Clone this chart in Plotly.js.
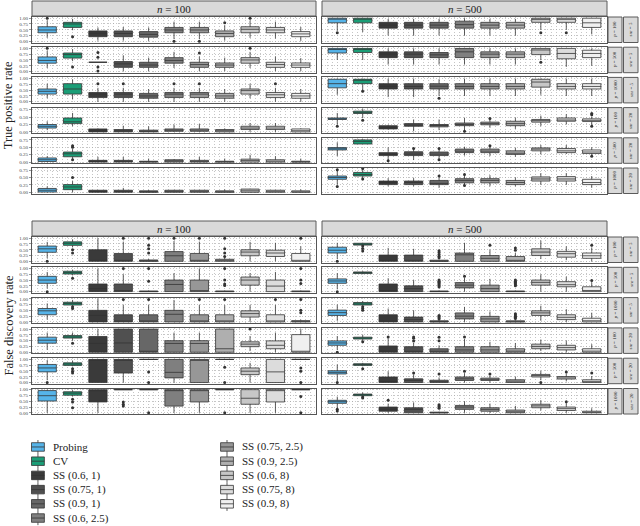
<!DOCTYPE html>
<html>
<head>
<meta charset="utf-8">
<script src="https://cdn.plot.ly/plotly-3.0.1.min.js"></script>
<style>
  body { margin: 0; background: #fff; }
  #chart { width: 640px; height: 526px; }
</style>
</head>
<body>
<div id="chart"></div>
<script>
const methods = ['Probing', 'CV', 'SS (0.6, 1)', 'SS (0.75, 1)', 'SS (0.9, 1)', 'SS (0.6, 2.5)',
    'SS (0.75, 2.5)', 'SS (0.9, 2.5)', 'SS (0.6, 8)', 'SS (0.75, 8)', 'SS (0.9, 8)'];
const fills = ['#56b4e9', '#1b9e77', '#3a3a3a', '#505050', '#676767', '#7f7f7f',
    '#979797', '#afafaf', '#c7c7c7', '#dcdcdc', '#f0f0f0'];

const nLabels = ['100', '500'];
const pLabels = ['100', '500', '1000', '100', '500', '1000'];
const snrLabels = ['5', '5', '5', '20', '20', '20'];
const tickVals = [0, 0.25, 0.5, 0.75, 1];
const tickText = ['0.00', '0.25', '0.50', '0.75', '1.00'];

// each row: [lower whisker, q1, median, q3, upper whisker, [outliers]]
// true positive rate, n = 100
const tprL1 = [
    [0.15, 0.37, 0.49, 0.63, 0.90, [1.0]], [0.48, 0.60, 0.75, 0.82, 0.97, [0.2]],
    [0.03, 0.20, 0.34, 0.45, 0.60, []], [0.03, 0.20, 0.34, 0.45, 0.62, []],
    [0.02, 0.18, 0.30, 0.42, 0.60, []], [0.10, 0.37, 0.49, 0.60, 0.85, [0.0]],
    [0.10, 0.37, 0.49, 0.60, 0.85, [0.0]], [0.03, 0.20, 0.34, 0.45, 0.70, [0.8]],
    [0.15, 0.37, 0.52, 0.63, 0.90, [1.0]], [0.12, 0.37, 0.49, 0.60, 0.85, []],
    [0.02, 0.20, 0.32, 0.42, 0.62, []]];
const tprL2 = [
    [0.15, 0.36, 0.48, 0.63, 0.90, [1.0]], [0.45, 0.58, 0.73, 0.80, 0.97, [0.2]],
    [0.40, 0.40, 0.40, 0.40, 0.40, [0.82, 0.62, 0.2, 0.02]], [0.02, 0.18, 0.33, 0.43, 0.70, []],
    [0.02, 0.18, 0.28, 0.40, 0.60, []], [0.15, 0.36, 0.48, 0.60, 0.85, []],
    [0.02, 0.18, 0.30, 0.40, 0.65, [0.8]], [0.02, 0.18, 0.28, 0.37, 0.60, []],
    [0.15, 0.36, 0.50, 0.60, 0.85, [1.0]], [0.02, 0.18, 0.30, 0.40, 0.65, []],
    [0.02, 0.18, 0.28, 0.37, 0.58, []]];
const tprL3 = [
    [0.15, 0.33, 0.45, 0.55, 0.78, []], [0.10, 0.33, 0.55, 0.78, 0.97, []],
    [0.00, 0.18, 0.33, 0.40, 0.60, [0.78]], [0.00, 0.18, 0.33, 0.40, 0.60, [0.78]],
    [0.00, 0.15, 0.25, 0.36, 0.55, []], [0.00, 0.18, 0.33, 0.40, 0.60, [0.78]],
    [0.00, 0.18, 0.33, 0.40, 0.60, [0.78]], [0.00, 0.15, 0.25, 0.36, 0.55, []],
    [0.15, 0.33, 0.48, 0.55, 0.78, []], [0.00, 0.18, 0.30, 0.40, 0.60, [0.78]],
    [0.00, 0.15, 0.25, 0.36, 0.55, []]];
const tprL4 = [
    [0.06, 0.13, 0.19, 0.25, 0.36, []], [0.19, 0.28, 0.34, 0.47, 0.64, []],
    [0.00, 0.00, 0.05, 0.10, 0.12, []], [0.00, 0.00, 0.04, 0.08, 0.21, []],
    [0.00, 0.00, 0.02, 0.06, 0.19, []], [0.00, 0.02, 0.06, 0.10, 0.25, []],
    [0.00, 0.02, 0.06, 0.10, 0.27, []], [0.00, 0.00, 0.04, 0.08, 0.12, []],
    [0.00, 0.08, 0.13, 0.19, 0.30, []], [0.00, 0.08, 0.13, 0.19, 0.30, []],
    [0.00, 0.00, 0.04, 0.10, 0.12, []]];
const tprL5 = [
    [0.00, 0.02, 0.08, 0.14, 0.20, []], [0.10, 0.18, 0.28, 0.34, 0.45, [0.5, 0.55, 0.08]],
    [0.00, 0.00, 0.02, 0.06, 0.18, []], [0.00, 0.00, 0.02, 0.06, 0.18, []],
    [0.00, 0.00, 0.01, 0.03, 0.12, []], [0.00, 0.00, 0.04, 0.08, 0.10, []],
    [0.00, 0.00, 0.02, 0.06, 0.18, []], [0.00, 0.00, 0.01, 0.03, 0.12, []],
    [0.00, 0.00, 0.05, 0.10, 0.25, []], [0.00, 0.00, 0.03, 0.08, 0.20, []],
    [0.00, 0.00, 0.01, 0.03, 0.12, []]];
const tprL6 = [
    [0.00, 0.01, 0.07, 0.13, 0.20, []], [0.00, 0.09, 0.18, 0.26, 0.38, [0.5]],
    [0.00, 0.00, 0.02, 0.07, 0.08, []], [0.00, 0.00, 0.02, 0.07, 0.15, []],
    [0.00, 0.00, 0.01, 0.05, 0.08, []], [0.00, 0.00, 0.02, 0.07, 0.08, []],
    [0.00, 0.00, 0.02, 0.07, 0.08, []], [0.00, 0.00, 0.01, 0.05, 0.10, []],
    [0.00, 0.00, 0.05, 0.11, 0.12, []], [0.00, 0.00, 0.02, 0.07, 0.08, []],
    [0.00, 0.00, 0.01, 0.05, 0.10, []]];

// true positive rate, n = 500
const tprR1 = [
    [0.45, 0.80, 0.97, 1.00, 1.00, [0.37]], [0.40, 0.80, 0.97, 1.00, 1.00, []],
    [0.25, 0.57, 0.70, 0.82, 0.97, []], [0.25, 0.57, 0.70, 0.82, 0.97, []],
    [0.25, 0.57, 0.70, 0.82, 0.97, []], [0.25, 0.57, 0.72, 0.87, 1.00, []],
    [0.25, 0.57, 0.70, 0.82, 0.97, []], [0.25, 0.57, 0.70, 0.82, 0.97, []],
    [0.50, 0.82, 0.95, 1.00, 1.00, [0.37]], [0.50, 0.82, 0.95, 1.00, 1.00, [0.37]],
    [0.30, 0.60, 0.80, 1.00, 1.00, []]];
const tprR2 = [
    [0.50, 0.80, 0.95, 1.00, 1.00, []], [0.50, 0.82, 0.97, 1.00, 1.00, []],
    [0.30, 0.60, 0.75, 0.85, 1.00, []], [0.30, 0.60, 0.75, 0.85, 1.00, []],
    [0.30, 0.60, 0.72, 0.82, 1.00, []], [0.30, 0.60, 0.85, 1.00, 1.00, []],
    [0.30, 0.60, 0.75, 0.85, 1.00, []], [0.30, 0.60, 0.75, 0.85, 1.00, []],
    [0.50, 0.73, 0.93, 1.00, 1.00, [0.4]], [0.20, 0.55, 0.78, 1.00, 1.00, []],
    [0.25, 0.60, 0.78, 0.92, 1.00, []]];
const tprR3 = [
    [0.30, 0.60, 0.78, 0.97, 1.00, []], [0.50, 0.78, 0.93, 0.97, 1.00, [0.45]],
    [0.20, 0.55, 0.66, 0.78, 1.00, []], [0.20, 0.55, 0.66, 0.78, 1.00, []],
    [0.25, 0.55, 0.67, 0.78, 0.97, [0.15]], [0.25, 0.55, 0.66, 0.78, 1.00, []],
    [0.25, 0.55, 0.66, 0.78, 1.00, []], [0.25, 0.55, 0.66, 0.78, 1.00, []],
    [0.30, 0.63, 0.85, 0.97, 1.00, []], [0.25, 0.55, 0.66, 0.78, 1.00, []],
    [0.25, 0.55, 0.66, 0.78, 1.00, []]];
const tprR4 = [
    [0.25, 0.42, 0.44, 0.47, 0.64, [0.19]], [0.47, 0.62, 0.66, 0.70, 0.78, [0.39]],
    [0.08, 0.10, 0.15, 0.21, 0.24, []], [0.02, 0.19, 0.23, 0.28, 0.42, []],
    [0.06, 0.17, 0.22, 0.25, 0.42, []], [0.05, 0.21, 0.25, 0.30, 0.47, [0.02]],
    [0.14, 0.24, 0.28, 0.33, 0.45, [0.45]], [0.10, 0.21, 0.28, 0.36, 0.48, []],
    [0.19, 0.33, 0.38, 0.42, 0.55, []], [0.25, 0.36, 0.40, 0.47, 0.60, []],
    [0.20, 0.35, 0.39, 0.44, 0.52, [0.62, 0.58, 0.19]]];
const tprR5 = [
    [0.20, 0.41, 0.45, 0.49, 0.67, []], [0.61, 0.61, 0.70, 0.75, 0.78, []],
    [0.07, 0.22, 0.26, 0.32, 0.50, [0.05]], [0.07, 0.22, 0.27, 0.35, 0.45, [0.46]],
    [0.07, 0.22, 0.27, 0.34, 0.45, [0.46, 0.08]], [0.22, 0.32, 0.37, 0.44, 0.52, []],
    [0.20, 0.32, 0.37, 0.44, 0.52, [0.55]], [0.18, 0.26, 0.30, 0.38, 0.48, []],
    [0.26, 0.38, 0.44, 0.48, 0.58, []], [0.28, 0.32, 0.38, 0.46, 0.58, []],
    [0.20, 0.29, 0.34, 0.41, 0.50, [0.2]]];
const tprR6 = [
    [0.26, 0.44, 0.50, 0.55, 0.72, [0.76, 0.2]], [0.45, 0.55, 0.60, 0.67, 0.78, [0.8, 0.45]],
    [0.20, 0.26, 0.33, 0.38, 0.48, []], [0.20, 0.26, 0.33, 0.38, 0.48, []],
    [0.15, 0.26, 0.30, 0.40, 0.50, [0.55]], [0.20, 0.32, 0.40, 0.46, 0.58, [0.6, 0.23]],
    [0.20, 0.32, 0.40, 0.46, 0.58, []], [0.20, 0.26, 0.33, 0.40, 0.50, []],
    [0.25, 0.38, 0.45, 0.52, 0.65, []], [0.25, 0.38, 0.45, 0.53, 0.65, []],
    [0.15, 0.26, 0.33, 0.44, 0.55, []]];

// false discovery rate, n = 100
const fdrL1 = [
    [0.13, 0.39, 0.54, 0.66, 0.84, [0.0]], [0.60, 0.69, 0.78, 0.84, 0.95, [0.5, 0.36]],
    [0.00, 0.00, 0.00, 0.50, 1.00, []], [0.00, 0.00, 0.00, 0.34, 0.85, [1.0]],
    [0.00, 0.00, 0.00, 0.06, 0.10, [1.0, 0.69, 0.54, 0.36]], [0.00, 0.00, 0.24, 0.42, 0.88, [1.0]],
    [0.00, 0.00, 0.00, 0.34, 0.85, [1.0]], [0.00, 0.00, 0.00, 0.09, 0.15, [1.0, 0.54, 0.36, 0.21]],
    [0.00, 0.24, 0.40, 0.50, 0.84, []], [0.00, 0.21, 0.36, 0.48, 0.80, []],
    [0.00, 0.00, 0.00, 0.34, 0.65, [1.0]]];
const fdrL2 = [
    [0.13, 0.36, 0.50, 0.66, 0.85, [0.0]], [0.70, 0.76, 0.82, 0.88, 0.95, [0.58]],
    [0.00, 0.00, 0.13, 0.33, 1.00, []], [0.00, 0.00, 0.00, 0.33, 0.75, [1.0]],
    [0.00, 0.00, 0.00, 0.03, 0.05, [1.0, 0.45]], [0.00, 0.00, 0.31, 0.50, 0.80, []],
    [0.00, 0.00, 0.00, 0.50, 1.00, []], [0.00, 0.00, 0.00, 0.03, 0.05, [1.0, 0.5, 0.33, 0.27]],
    [0.00, 0.28, 0.50, 0.63, 0.80, []], [0.00, 0.00, 0.24, 0.50, 0.85, []],
    [0.00, 0.00, 0.00, 0.03, 0.05, [1.0, 0.5, 0.35]]];
const fdrL3 = [
    [0.10, 0.31, 0.48, 0.58, 0.80, []], [0.70, 0.73, 0.80, 0.85, 0.95, [0.66, 0.58]],
    [0.00, 0.00, 0.28, 0.50, 1.00, []], [0.00, 0.00, 0.00, 0.31, 0.73, [0.97]],
    [0.00, 0.00, 0.00, 0.31, 0.73, [0.97]], [0.00, 0.00, 0.33, 0.50, 0.95, []],
    [0.00, 0.00, 0.00, 0.31, 0.73, [0.97]], [0.00, 0.00, 0.00, 0.31, 0.73, [0.97]],
    [0.00, 0.21, 0.36, 0.48, 0.73, []], [0.00, 0.00, 0.00, 0.31, 0.73, [0.97]],
    [0.00, 0.00, 0.00, 0.06, 0.10, [0.97, 0.5, 0.4]]];
const fdrL4 = [
    [0.10, 0.39, 0.52, 0.65, 0.85, []], [0.50, 0.61, 0.66, 0.72, 0.85, [0.39]],
    [0.00, 0.00, 0.38, 0.68, 1.00, []], [0.00, 0.00, 0.40, 1.00, 1.00, []],
    [0.00, 0.00, 0.00, 1.00, 1.00, []], [0.00, 0.00, 0.38, 0.50, 0.85, []],
    [0.00, 0.00, 0.38, 0.50, 0.85, []], [0.00, 0.00, 0.15, 1.00, 1.00, []],
    [0.05, 0.24, 0.35, 0.45, 0.70, [1.0]], [0.00, 0.15, 0.30, 0.49, 0.85, []],
    [0.00, 0.00, 0.00, 0.76, 1.00, []]];
const fdrL5 = [
    [0.10, 0.46, 0.63, 0.78, 0.97, [0.0]], [0.70, 0.74, 0.80, 0.85, 0.95, [0.59, 0.49, 0.41]],
    [0.00, 0.00, 1.00, 1.00, 1.00, []], [0.00, 0.41, 1.00, 1.00, 1.00, []],
    [1.00, 1.00, 1.00, 1.00, 1.00, [0.46, 0.0]], [0.00, 0.20, 0.44, 1.00, 1.00, []],
    [0.00, 0.00, 1.00, 1.00, 1.00, []], [1.00, 1.00, 1.00, 1.00, 1.00, [0.66, 0.0]],
    [0.00, 0.34, 0.49, 0.63, 0.85, []], [0.00, 0.00, 0.46, 1.00, 1.00, []],
    [1.00, 1.00, 1.00, 1.00, 1.00, [0.63, 0.49, 0.0]]];
const fdrL6 = [
    [0.00, 0.51, 0.74, 0.96, 1.00, []], [0.70, 0.76, 0.85, 0.91, 0.98, [0.59, 0.47, 0.22]],
    [0.00, 0.47, 1.00, 1.00, 1.00, []], [1.00, 1.00, 1.00, 1.00, 1.00, [0.47, 0.37, 0.29]],
    [1.00, 1.00, 1.00, 1.00, 1.00, [0.0]], [0.00, 0.29, 1.00, 1.00, 1.00, []],
    [0.00, 0.47, 1.00, 1.00, 1.00, []], [1.00, 1.00, 1.00, 1.00, 1.00, [0.0]],
    [0.00, 0.37, 0.63, 1.00, 1.00, []], [0.00, 0.47, 1.00, 1.00, 1.00, []],
    [1.00, 1.00, 1.00, 1.00, 1.00, [0.7, 0.0]]];

// false discovery rate, n = 500
const fdrR1 = [
    [0.10, 0.36, 0.48, 0.61, 0.80, [0.0]], [0.70, 0.70, 0.74, 0.78, 0.80, [0.66, 0.55, 0.45]],
    [0.00, 0.00, 0.00, 0.27, 0.58, []], [0.00, 0.00, 0.00, 0.27, 0.54, []],
    [0.00, 0.00, 0.00, 0.05, 0.08, [0.46, 0.38, 0.3, 0.22, 0.15]], [0.00, 0.00, 0.28, 0.36, 0.80, []],
    [0.00, 0.00, 0.13, 0.25, 0.50, [0.69]], [0.00, 0.00, 0.00, 0.21, 0.36, [0.58, 0.48]],
    [0.10, 0.25, 0.40, 0.54, 0.90, []], [0.05, 0.18, 0.33, 0.43, 0.65, []],
    [0.00, 0.13, 0.24, 0.36, 0.60, [0.69]]];
const fdrR2 = [
    [0.10, 0.36, 0.46, 0.55, 0.80, [0.0]], [0.75, 0.78, 0.82, 0.85, 0.88, []],
    [0.00, 0.00, 0.00, 0.33, 0.58, []], [0.00, 0.00, 0.13, 0.25, 0.50, []],
    [0.00, 0.00, 0.00, 0.03, 0.05, [0.5, 0.45, 0.4, 0.35, 0.3, 0.25, 0.2]], [0.00, 0.16, 0.28, 0.39, 0.60, [0.66]],
    [0.00, 0.00, 0.13, 0.28, 0.55, []], [0.00, 0.00, 0.00, 0.03, 0.05, [0.5, 0.45, 0.4, 0.35, 0.3, 0.25]],
    [0.00, 0.28, 0.40, 0.50, 0.75, []], [0.00, 0.21, 0.30, 0.43, 0.65, []],
    [0.00, 0.00, 0.05, 0.21, 0.40, [0.48]]];
const fdrR3 = [
    [0.05, 0.28, 0.40, 0.51, 0.75, []], [0.70, 0.73, 0.78, 0.84, 0.90, [0.66, 0.58, 0.5]],
    [0.00, 0.00, 0.00, 0.31, 0.58, []], [0.00, 0.00, 0.10, 0.21, 0.50, []],
    [0.00, 0.00, 0.00, 0.05, 0.08, [0.28, 0.23, 0.18, 0.13]], [0.00, 0.13, 0.25, 0.39, 0.65, []],
    [0.00, 0.00, 0.13, 0.24, 0.45, []], [0.00, 0.00, 0.00, 0.05, 0.08, [0.35, 0.3, 0.25, 0.2, 0.15]],
    [0.05, 0.28, 0.39, 0.48, 0.70, []], [0.00, 0.10, 0.20, 0.31, 0.55, []],
    [0.00, 0.00, 0.05, 0.16, 0.40, []]];
const fdrR4 = [
    [0.10, 0.30, 0.40, 0.49, 0.70, [0.0]], [0.50, 0.57, 0.62, 0.65, 0.75, [0.45]],
    [0.00, 0.00, 0.00, 0.27, 0.60, [0.66]], [0.00, 0.00, 0.00, 0.24, 0.40, [0.49, 0.6, 0.66]],
    [0.00, 0.00, 0.00, 0.15, 0.30, [0.65, 0.5]], [0.00, 0.00, 0.10, 0.24, 0.57, [0.66]],
    [0.00, 0.00, 0.10, 0.24, 0.45, []], [0.00, 0.00, 0.05, 0.15, 0.40, []],
    [0.05, 0.15, 0.25, 0.35, 0.55, []], [0.00, 0.10, 0.20, 0.30, 0.50, []],
    [0.00, 0.00, 0.05, 0.15, 0.35, []]];
const fdrR5 = [
    [0.05, 0.37, 0.44, 0.51, 0.78, [0.0]], [0.70, 0.74, 0.78, 0.81, 0.85, [0.59]],
    [0.00, 0.00, 0.00, 0.24, 0.49, []], [0.00, 0.00, 0.09, 0.16, 0.35, [0.41]],
    [0.00, 0.00, 0.05, 0.10, 0.22, [0.37]], [0.00, 0.09, 0.16, 0.24, 0.40, [0.49]],
    [0.00, 0.09, 0.14, 0.19, 0.30, [0.37]], [0.00, 0.00, 0.06, 0.12, 0.25, []],
    [0.10, 0.24, 0.30, 0.35, 0.50, [0.0]], [0.05, 0.15, 0.20, 0.26, 0.38, [0.46]],
    [0.00, 0.00, 0.05, 0.12, 0.28, [0.41]]];
const fdrR6 = [
    [0.20, 0.41, 0.48, 0.54, 0.70, [0.15, 0.08]], [0.70, 0.74, 0.78, 0.81, 0.88, [0.68, 0.64]],
    [0.00, 0.07, 0.15, 0.25, 0.40, [0.54]], [0.00, 0.00, 0.15, 0.22, 0.45, []],
    [0.00, 0.00, 0.00, 0.03, 0.05, [0.35, 0.3, 0.25, 0.2]], [0.00, 0.15, 0.25, 0.32, 0.50, []],
    [0.00, 0.07, 0.15, 0.22, 0.40, []], [0.00, 0.00, 0.04, 0.12, 0.30, []],
    [0.10, 0.22, 0.30, 0.37, 0.55, []], [0.00, 0.10, 0.18, 0.25, 0.45, [0.48]],
    [0.00, 0.00, 0.02, 0.07, 0.20, []]];

const tprLeft = [tprL1, tprL2, tprL3, tprL4, tprL5, tprL6];
const tprRight = [tprR1, tprR2, tprR3, tprR4, tprR5, tprR6];
const fdrLeft = [fdrL1, fdrL2, fdrL3, fdrL4, fdrL5, fdrL6];
const fdrRight = [fdrR1, fdrR2, fdrR3, fdrR4, fdrR5, fdrR6];

// ---- geometry (pixels) ----
const W = 640, H = 526;
const FONT = 'Liberation Serif, DejaVu Serif, serif';
const colX = [[32, 316], [322, 607]];
const panelH = 25.5;
const blocks = [
    {name: 'True positive rate', headerTop: 1, tops: [17, 47.2, 77.4, 107.6, 137.8, 168], data: [tprLeft, tprRight]},
    {name: 'False discovery rate', headerTop: 221, tops: [237, 267.3, 297.6, 327.9, 358.2, 388.5], data: [fdrLeft, fdrRight]}
];
const px = v => v / W;
const py = v => 1 - v / H;

const traces = [];
const shapes = [];
const annotations = [];
const layout = {
    width: W, height: H,
    margin: {l: 0, r: 0, t: 0, b: 0},
    paper_bgcolor: '#ffffff', plot_bgcolor: '#ffffff',
    showlegend: false,
    font: {family: FONT, color: '#222'},
    shapes: shapes, annotations: annotations
};

function label(x, y, text, size, angle) {
    annotations.push({xref: 'paper', yref: 'paper', x: px(x), y: py(y), text: text,
        xanchor: 'center', yanchor: 'middle', textangle: angle || 0, showarrow: false,
        font: {size: size, family: FONT, color: '#222'}});
}

let k = 0;
blocks.forEach((block, b) => {
    block.data.forEach((colData, c) => {
        // n = ... strip above the column
        shapes.push({type: 'rect', xref: 'paper', yref: 'paper',
            x0: px(colX[c][0]), x1: px(colX[c][1]), y0: py(block.headerTop + 15), y1: py(block.headerTop),
            fillcolor: '#d9d9d9', line: {color: '#5a5a5a', width: 1}});
        label((colX[c][0] + colX[c][1]) / 2, block.headerTop + 7.5, '<i>n</i> = ' + nLabels[c], 11);

        colData.forEach((stats, r) => {
            k += 1;
            const xa = k === 1 ? 'x' : 'x' + k;
            const ya = k === 1 ? 'y' : 'y' + k;
            const top = block.tops[r];
            const small = b === 0 && r >= 3;
            const yRange = small ? [-0.04, 0.82] : [-0.05, 1.05];
            const tv = small ? tickVals.slice(0, 4) : tickVals;
            const tt = small ? tickText.slice(0, 4) : tickText;

            layout['xaxis' + (k === 1 ? '' : k)] = {
                domain: [px(colX[c][0]), px(colX[c][1])], anchor: ya,
                range: [0.4, 11.6], tick0: 0, dtick: 0.2,
                showgrid: true, gridcolor: '#a0a0a0', gridwidth: 0.6, griddash: '1px,2px',
                showticklabels: false, ticks: '', zeroline: false,
                showline: true, mirror: true, linecolor: '#555', linewidth: 1, fixedrange: true
            };
            layout['yaxis' + (k === 1 ? '' : k)] = {
                domain: [py(top + panelH), py(top)], anchor: xa,
                range: yRange, tickvals: tv, ticktext: tt,
                showticklabels: c === 0, ticks: c === 0 ? 'outside' : '', ticklen: 2, tickwidth: 0.5,
                tickcolor: '#333', tickfont: {size: 5, family: FONT, color: '#444'},
                showgrid: true, gridcolor: '#a0a0a0', gridwidth: 0.6, griddash: '1px,2px',
                zeroline: false, showline: true, mirror: true, linecolor: '#555', linewidth: 1, fixedrange: true
            };

            const ox = [], oy = [];
            stats.forEach((s, m) => {
                traces.push({
                    type: 'box', xaxis: xa, yaxis: ya, x: [m + 1],
                    lowerfence: [s[0]], q1: [s[1]], median: [s[2]], q3: [s[3]], upperfence: [s[4]],
                    fillcolor: fills[m], line: {color: '#333', width: 0.8},
                    whiskerwidth: 0, width: 0.72, boxpoints: false,
                    hoverinfo: 'skip', showlegend: false, name: methods[m]
                });
                s[5].forEach(v => { ox.push(m + 1); oy.push(v); });
            });
            traces.push({type: 'scatter', mode: 'markers', xaxis: xa, yaxis: ya, x: ox, y: oy,
                marker: {size: 3, color: '#333'}, hoverinfo: 'skip', showlegend: false, cliponaxis: false});

            // p / snr strips on the right of the n = 500 column
            if (c === 1) {
                [[608, 622, '<i>p</i> = ' + pLabels[r]], [623.5, 638, 'snr = ' + snrLabels[r]]].forEach(st => {
                    shapes.push({type: 'rect', xref: 'paper', yref: 'paper',
                        x0: px(st[0]), x1: px(st[1]), y0: py(top + panelH), y1: py(top),
                        fillcolor: '#d9d9d9', line: {color: '#5a5a5a', width: 1}});
                    label((st[0] + st[1]) / 2, top + panelH / 2, st[2], 5, -90);
                });
            }
        });
    });
    label(8, (block.tops[0] + block.tops[5] + panelH) / 2, block.name, 12.5, -90);
});

// ---- legend, drawn in its own hidden axes: column 0/1, row 0..5 ----
const lk = k + 1;
layout['xaxis' + lk] = {domain: [px(30), px(400)], range: [-0.042, 1.915], visible: false, anchor: 'y' + lk, fixedrange: true};
layout['yaxis' + lk] = {domain: [py(526), py(440)], range: [-5.56, 0.49], visible: false, anchor: 'x' + lk, fixedrange: true};
methods.forEach((name, m) => {
    const col = m < 6 ? 0 : 1;
    const row = m < 6 ? m : m - 6;
    traces.push({
        type: 'box', xaxis: 'x' + lk, yaxis: 'y' + lk, x: [col],
        lowerfence: [-row - 0.5], q1: [-row - 0.3], median: [-row], q3: [-row + 0.3], upperfence: [-row + 0.5],
        fillcolor: fills[m], line: {color: '#333', width: 0.8}, whiskerwidth: 0, width: 0.068,
        boxpoints: false, hoverinfo: 'skip', showlegend: false
    });
    annotations.push({xref: 'x' + lk, yref: 'y' + lk, x: col + 0.07, y: -row, text: name,
        xanchor: 'left', yanchor: 'middle', showarrow: false, font: {size: 11, family: FONT, color: '#222'}});
});

Plotly.newPlot('chart', traces, layout, {staticPlot: true, displayModeBar: false});
</script>
</body>
</html>
